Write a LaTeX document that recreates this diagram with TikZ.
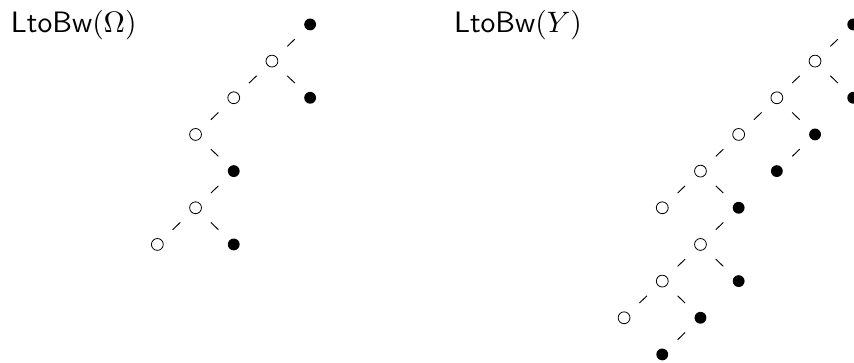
\documentclass[tikz,border=0pt]{standalone}
\usepackage{amsmath,amssymb}
\usepackage{tikz}
\usetikzlibrary{positioning}
\tikzset{open node/.style={circle,draw,line width=0.6pt,minimum size=0.31cm,inner sep=0pt},
	full node/.style={circle,fill=black,minimum size=0.31cm,inner sep=0pt},
	tree label/.style={anchor=base west,inner sep=0pt,scale=2.2},}

\begin{document}
\begin{tikzpicture}[on grid, node distance=0.96cm and 1cm, line width=0.7pt]
	\useasboundingbox (0,0) rectangle (22.36,-9.48);

	\node[tree label] (la) at (0.26,-0.86) {\textsf{LtoBw}$(\Omega)$};
	\node[tree label] (lr) at (11.86,-0.86) {\textsf{LtoBw}$(Y)$};

	% left tree
	\node[full node] (a1) at (8.12,-0.64) {};
	\node[open node] (a2) [below left = of a1] {};
	\node[full node] (a3) [below right = of a2] {};
	\node[open node] (a4) [below left = of a2] {};
	\node[open node] (a5) [below left = of a4] {};
	\node[full node] (a6) [below right = of a5] {};
	\node[open node] (a7) [below left = of a6] {};
	\node[open node] (a8) [below left = of a7] {};
	\node[full node] (a9) [below right = of a7] {};

	% right tree
	\node[full node] (r1) at (22.34,-0.64) {};
	\node[open node] (r2) [below left = of r1] {};
	\node[full node] (r3) [below right = of r2] {};
	\node[open node] (r4) [below left = of r2] {};
	\node[open node] (r5) [below left = of r4] {};
	\node[full node] (r6) [below right = of r4] {};
	\node[open node] (r7) [below left = of r5] {};
	\node[full node] (r8) [below left = of r6] {};
	\node[open node] (r9) [below left = of r7] {};
	\node[full node] (r10) [below right = of r7] {};
	\node[open node] (r11) [below left = of r10] {};
	\node[open node] (r12) [below left = of r11] {};
	\node[full node] (r13) [below right = of r11] {};
	\node[open node] (r14) [below left = of r12] {};
	\node[full node] (r15) [below right = of r12] {};
	\node[full node] (r16) [below left = of r15] {};

	\path[draw, shorten >=0.39cm, shorten <=0.39cm]
	(a1) edge (a2)
	(a2) edge (a3)
	(a2) edge (a4)
	(a4) edge (a5)
	(a5) edge (a6)
	(a6) edge (a7)
	(a7) edge (a8)
	(a7) edge (a9)
	(r1) edge (r2)
	(r2) edge (r3)
	(r2) edge (r4)
	(r4) edge (r5)
	(r4) edge (r6)
	(r5) edge (r7)
	(r6) edge (r8)
	(r7) edge (r9)
	(r7) edge (r10)
	(r10) edge (r11)
	(r11) edge (r12)
	(r11) edge (r13)
	(r12) edge (r14)
	(r12) edge (r15)
	(r15) edge (r16);
\end{tikzpicture}
\end{document}
